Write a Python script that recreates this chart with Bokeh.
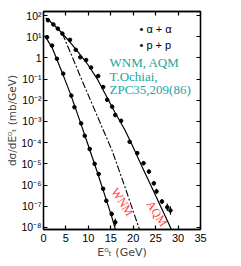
import numpy as np
from bokeh.plotting import figure
from bokeh.models import (Range1d, LinearAxis, LogAxis, FixedTicker,
                          CustomJSTickFormatter, Label)
from bokeh.embed import file_html
from bokeh.resources import INLINE

# ---------------- data (E_T^0 in GeV, dsigma/dE_T^0 in mb/GeV) ----------------
aa_et = [1.0, 2.2, 3.2, 4.2, 5.9, 7.2, 8.2, 9.5, 10.6, 12.2, 13.3, 14.2, 15.3,
         16.0, 17.3, 19.2, 20.9, 22.3, 23.5, 24.6, 25.2, 26.4, 27.6, 28.3]
aa_xs = [60, 38, 24, 14, 7.1, 2.4, 1.07, 0.79, 0.35, 0.14, 0.042, 0.0105, 5.0e-3,
         2.0e-3, 1.07e-3, 1.1e-4, 3.2e-5, 1.07e-5, 4.3e-6, 1.2e-6, 5.0e-7,
         1.66e-7, 8.9e-8, 6.3e-8]
aa_err = [0.06, 0.06, 0.06, 0.06, 0.06, 0.06, 0.06, 0.06, 0.06, 0.06, 0.07, 0.07,
          0.07, 0.08, 0.08, 0.08, 0.08, 0.1, 0.1, 0.1, 0.12, 0.12, 0.18, 0.2]

pp_et = [0.8, 1.9, 3.0, 4.4, 6.2, 6.9, 8.4, 9.2, 10.3, 11.4, 12.3, 13.3, 14.0, 15.2, 16.0]
pp_xs = [9.5, 3.8, 0.91, 0.18, 0.0166, 4.7e-3, 8.1e-4, 2.1e-4, 5.0e-5, 1.0e-5,
         3.3e-6, 6.6e-7, 1.8e-7, 4.3e-8, 1.74e-8]
pp_err = [0.06, 0.06, 0.06, 0.06, 0.06, 0.06, 0.07, 0.07, 0.07, 0.08, 0.08,
          0.08, 0.1, 0.12, 0.18]

# model curves
aqm_et = [0.5, 2, 4, 6, 8, 10, 12, 14, 16, 18, 19.4, 22, 24, 26, 28, 28.6]
aqm_xs = [76, 42, 15.8, 5.2, 1.58, 0.45, 0.1, 0.0158, 2.5e-3, 4.5e-4, 1.12e-4,
          7.1e-6, 8.9e-7, 1.12e-7, 1.35e-8, 7.1e-9]
wnm_et = [4.2, 5.0, 6.5, 8.6, 12, 15.3, 18, 21.4]
wnm_xs = [14.1, 5.6, 1.0, 0.085, 1.78e-3, 4.2e-5, 1.0e-6, 7.9e-9]
ppfit_et = [0.3, 2, 4, 6, 8, 10, 12, 14, 15.2, 16.1]
ppfit_xs = [11.2, 2.8, 0.25, 0.02, 1.26e-3, 7.1e-5, 4.0e-6, 2.0e-7, 3.2e-8, 7.1e-9]

x_ticks = [0, 5, 10, 15, 20, 25, 30, 35]
y_tick_exponents = [-8, -7, -6, -5, -4, -3, -2, -1, 0, 1, 2]

x_title = "E\u2070\u209c (GeV)"
y_title = "d\u03c3/dE\u2070\u209c (mb/GeV)"
legend_labels = ["\u2022 \u03b1 + \u03b1", "\u2022 p + p"]
ref_lines = ["WNM, AQM", "T.Ochiai,", "ZPC35,209(86)"]
# ------------------------------------------------------------------------------

y_ticks = [10.0 ** e for e in y_tick_exponents]

p = figure(width=241, height=266, output_backend="svg", toolbar_location=None,
           y_axis_type="log", x_range=Range1d(0, 35),
           y_range=Range1d(10 ** -8.1, 10 ** 2.19),
           min_border_left=43, min_border_right=41, min_border_top=11,
           min_border_bottom=37)
p.xgrid.visible = False
p.ygrid.visible = False
p.outline_line_color = "black"
p.outline_line_width = 1.3
p.background_fill_color = "white"
p.border_fill_color = "white"

fmt = CustomJSTickFormatter(code="""
const e = Math.round(Math.log10(tick));
if (e === 0) return "1";
const s = {"-":"\u207b","0":"\u2070","1":"\u00b9","2":"\u00b2","3":"\u00b3","4":"\u2074",
           "5":"\u2075","6":"\u2076","7":"\u2077","8":"\u2078","9":"\u2079"};
return "10" + String(e).split("").map(c => s[c]).join("");
""")

def style(ax, labels=True, size="11px", standoff=4):
    ax.axis_line_color = "black"
    ax.axis_line_width = 1.3
    ax.major_tick_in = 4
    ax.major_tick_out = 0
    ax.major_tick_line_color = "black"
    ax.major_tick_line_width = 1.2
    ax.minor_tick_line_color = None
    ax.major_label_text_font = "Liberation Sans"
    if labels:
        ax.major_label_text_color = "black"
        ax.major_label_text_font_size = size
        ax.major_label_standoff = standoff
    else:
        ax.major_label_text_color = None
        ax.major_label_text_font_size = "1px"
        ax.major_label_standoff = 0

xa = p.xaxis[0]
xa.ticker = FixedTicker(ticks=x_ticks)
style(xa)
xa.axis_label = x_title
xa.axis_label_text_font = "DejaVu Sans"
xa.axis_label_text_font_style = "normal"
xa.axis_label_text_font_size = "11px"
xa.axis_label_standoff = 1

ya = p.yaxis[0]
ya.ticker = FixedTicker(ticks=y_ticks)
ya.formatter = fmt
style(ya, size="10.5px", standoff=2)
ya.axis_label = y_title
ya.axis_label_text_font = "DejaVu Sans"
ya.axis_label_text_font_style = "normal"
ya.axis_label_text_font_size = "10.5px"
ya.axis_label_standoff = 0

top = LinearAxis(ticker=FixedTicker(ticks=x_ticks))
style(top, labels=False)
p.add_layout(top, "above")
right = LogAxis(ticker=FixedTicker(ticks=y_ticks))
style(right, labels=False)
p.add_layout(right, "right")

# model curves
p.line(aqm_et, aqm_xs, line_color="black", line_width=1.2)
p.line(wnm_et, wnm_xs, line_color="black", line_width=1.1, line_dash="7 2 2 2")
p.line(ppfit_et, ppfit_xs, line_color="black", line_width=1.2)

# data with error bars
for et, xs, er in ((aa_et, aa_xs, aa_err), (pp_et, pp_xs, pp_err)):
    xs_a = np.array(xs)
    er_a = np.array(er)
    p.segment(et, xs_a * 10 ** (-er_a), et, xs_a * 10 ** er_a,
              line_color="black", line_width=1.1)
    p.scatter(et, xs, size=3.6, color="black")

# legend texts
for txt, ly in zip(legend_labels, [10 ** 1.387, 10 ** 0.631]):
    p.add_layout(Label(x=21.4, y=ly, text=txt, text_font="Liberation Sans",
                       text_font_size="11px", text_color="black",
                       text_baseline="middle", text_align="left"))

# reference note
for txt, ly in zip(ref_lines, [10 ** -0.219, 10 ** -0.857, 10 ** -1.494]):
    p.add_layout(Label(x=14.71, y=ly, text=txt, text_font="Liberation Serif",
                       text_font_size="13px", text_color="#22a3a3",
                       text_baseline="alphabetic", text_align="left"))

# model names
p.add_layout(Label(x=17.6, y=10 ** -6.8, text="WNM", angle=-1.0,
                   text_font="Liberation Serif", text_font_size="12px",
                   text_color="#ff4040", text_align="center", text_baseline="middle"))
p.add_layout(Label(x=25.3, y=10 ** -7.35, text="AQM", angle=-1.0,
                   text_font="Liberation Serif", text_font_size="12px",
                   text_color="#ff4040", text_align="center", text_baseline="middle"))

open("out.html", "w").write(file_html(p, INLINE))
